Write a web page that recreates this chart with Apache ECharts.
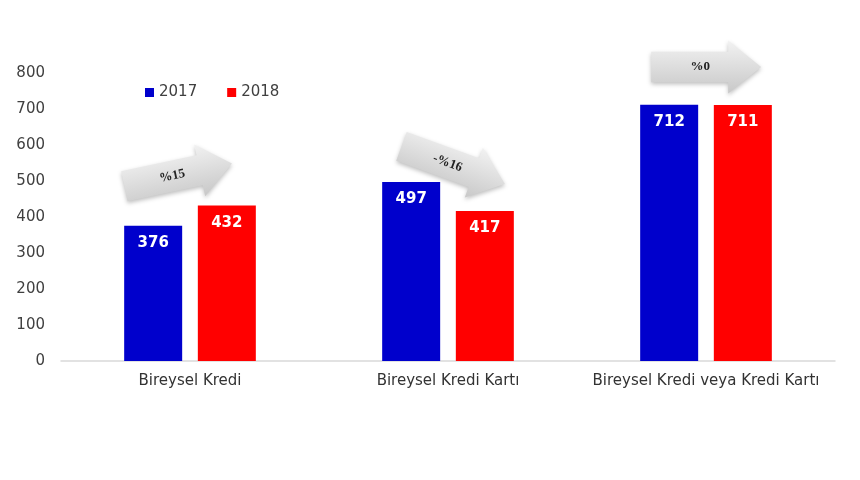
<!DOCTYPE html>
<html><head><meta charset="utf-8">
<script src="https://cdn.jsdelivr.net/npm/echarts@6/dist/echarts.min.js"></script>
<style>html,body{margin:0;padding:0;background:#fff}#c{width:860px;height:480px}</style>
</head><body><div id="c"></div>
<script>
const categories = ['Bireysel Kredi', 'Bireysel Kredi Kartı', 'Bireysel Kredi veya Kredi Kartı'];
const values2017 = [376, 497, 712];
const values2018 = [432, 417, 711];
const changeLabels = ['%15', '-%16', '%0'];
const changeArrowY = [517, 544, 800];
const changeArrowRotate = [12, -20, 0];

const arrowPath = 'path://M0,11 L70,11 L70,0 L100,26 L70,52 L70,41 L0,41 Z';
const arrowOffsets = [[25, 0], [42, 0], [37, -6]];

const chart = echarts.init(document.getElementById('c'));
chart.setOption({
  animation: false,
  backgroundColor: '#fff',
  textStyle: { fontFamily: 'DejaVu Sans, sans-serif' },
  legend: {
    left: 140, top: 80, icon: 'rect', itemWidth: 9, itemHeight: 9, itemGap: 30,
    textStyle: { fontSize: 15, color: '#404040' },
    data: ['2017', '2018']
  },
  grid: { left: 61, right: 25, top: 73, bottom: 119 },
  xAxis: {
    type: 'category', data: categories,
    axisLine: { lineStyle: { color: '#d9d9d9', width: 1.5 } },
    axisTick: { show: false },
    axisLabel: { color: '#333', fontSize: 15, margin: 13, interval: 0, hideOverlap: false }
  },
  yAxis: {
    type: 'value', min: 0, max: 800, interval: 100,
    splitLine: { show: false }, axisLine: { show: false }, axisTick: { show: false },
    axisLabel: { color: '#404040', fontSize: 15, margin: 16 }
  },
  series: [
    {
      name: '2017', type: 'bar', data: values2017, barWidth: 58, barGap: '27%',
      itemStyle: { color: '#0000CC' },
      label: { show: true, position: 'insideTop', distance: 10, color: '#fff', fontWeight: 'bold', fontSize: 15 },
      markPoint: {
        symbol: arrowPath, symbolSize: [110, 53], silent: true,
        itemStyle: {
          color: new echarts.graphic.LinearGradient(0, 0, 0, 1, [
            { offset: 0, color: '#f2f2f2' }, { offset: 1, color: '#c8c8c8' }
          ]),
          shadowColor: 'rgba(0,0,0,0.25)', shadowBlur: 4, shadowOffsetY: 2
        },
        data: categories.map((c, i) => ({
          coord: [c, changeArrowY[i]],
          symbolRotate: changeArrowRotate[i],
          symbolOffset: arrowOffsets[i],
          label: {
            show: true, formatter: changeLabels[i], color: '#222',
            fontFamily: 'Liberation Serif, serif', fontWeight: 'bold', fontSize: 13,
            rotate: changeArrowRotate[i], offset: [-6, 0]
          }
        }))
      }
    },
    {
      name: '2018', type: 'bar', data: values2018, barWidth: 58,
      itemStyle: { color: '#FF0000' },
      label: { show: true, position: 'insideTop', distance: 10, color: '#fff', fontWeight: 'bold', fontSize: 15 }
    }
  ]
});
</script></body></html>
